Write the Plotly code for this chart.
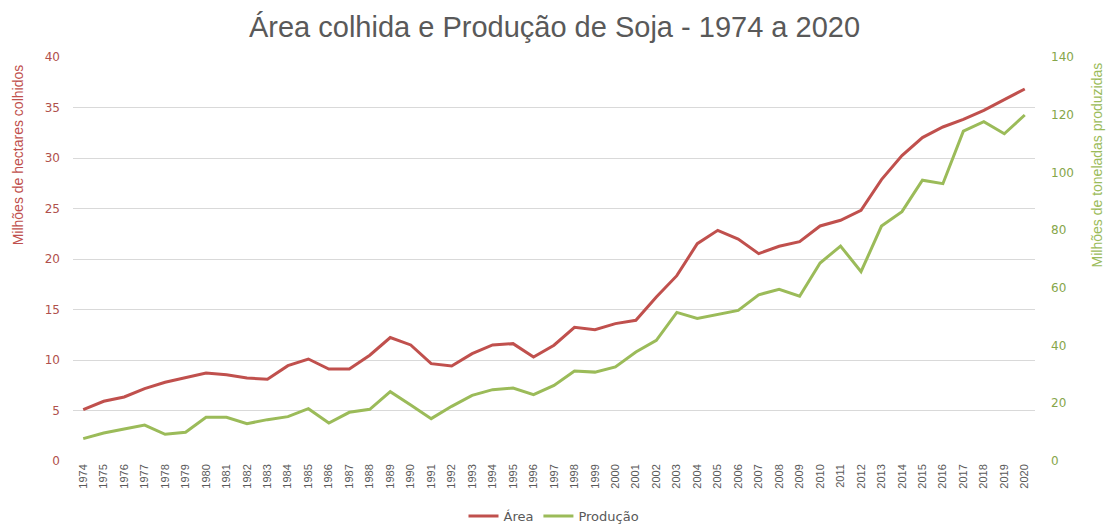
import plotly.graph_objects as go

anos = [str(a) for a in range(1974, 2021)]
area = [5.09, 5.91, 6.34, 7.17, 7.79, 8.22, 8.71, 8.55, 8.22, 8.09,
        9.44, 10.1, 9.11, 9.11, 10.47, 12.22, 11.49, 9.64, 9.41, 10.63,
        11.49, 11.62, 10.3, 11.46, 13.24, 13.0, 13.6, 13.93, 16.24, 18.35,
        21.52, 22.84, 21.98, 20.53, 21.26, 21.72, 23.27, 23.83, 24.82, 27.86,
        30.24, 32.02, 33.07, 33.83, 34.72, 35.78, 36.83]
producao = [7.76, 9.7, 11.09, 12.47, 9.25, 9.94, 15.14, 15.14, 12.94, 14.33,
            15.37, 18.14, 13.17, 16.87, 17.9, 24.04, 19.4, 14.68, 18.95, 22.76,
            24.73, 25.3, 23.0, 26.2, 31.2, 30.8, 32.6, 37.8, 41.8, 51.5,
            49.4, 50.8, 52.2, 57.6, 59.5, 57.1, 68.6, 74.5, 65.6, 81.4,
            86.4, 97.3, 96.1, 114.3, 117.6, 113.4, 119.9]

red = "#C0504D"
green = "#9BBB59"
tick_font = "DejaVu Sans, Verdana, sans-serif"
narrow = "Liberation Sans Narrow, Arial Narrow, Liberation Sans, sans-serif"

fig = go.Figure()
fig.add_trace(go.Scatter(x=anos, y=area, name="Área", mode="lines",
                         line=dict(color=red, width=3), yaxis="y"))
fig.add_trace(go.Scatter(x=anos, y=producao, name="Produção", mode="lines",
                         line=dict(color=green, width=3), yaxis="y2"))

fig.update_layout(
    width=1109, height=525,
    margin=dict(l=73, r=74, t=57, b=64, autoexpand=False),
    paper_bgcolor="white", plot_bgcolor="white",
    title=dict(text="Área colhida e Produção de Soja - 1974 a 2020",
               x=0.5, xanchor="center", y=0.949, yanchor="middle",
               font=dict(family="Liberation Sans, Arial, sans-serif", size=29, color="#595959")),
    xaxis=dict(type="category", range=[-0.5, 46.5], tickangle=-90, automargin=False,
               showgrid=False, showline=False, ticks="",
               tickfont=dict(family=narrow, size=11, color="#595959")),
    yaxis=dict(range=[0, 40], dtick=5, showgrid=True, gridcolor="#D9D9D9", gridwidth=1,
               zeroline=False, showline=False, ticks="", ticklabelstandoff=12, automargin=False,
               tickfont=dict(family=tick_font, size=12, color="#B0504C")),
    yaxis2=dict(range=[0, 140], dtick=20, overlaying="y", side="right", automargin=False,
                showgrid=False, zeroline=False, showline=False, ticks="",
                ticklabelstandoff=15,
                tickfont=dict(family=tick_font, size=12, color="#86A64A")),
    legend=dict(orientation="h", x=0.5, xanchor="center", y=-0.136, yanchor="middle",
                font=dict(family=tick_font, size=13, color="#595959"),
                itemwidth=30),
    annotations=[
        dict(text="Milhões de hectares colhidos", textangle=-90, showarrow=False,
             xref="paper", yref="paper", x=-0.057, y=0.757, xanchor="center", yanchor="middle",
             font=dict(family=narrow, size=14, color=red)),
        dict(text="Milhões de toneladas produzidas", textangle=-90, showarrow=False,
             xref="paper", yref="paper", x=1.064, y=0.733, xanchor="center", yanchor="middle",
             font=dict(family=narrow, size=14, color=green)),
    ],
)

fig.write_html("out.html", config={"displayModeBar": False},
               post_script="document.body.style.margin='0';document.body.style.overflow='hidden';")
